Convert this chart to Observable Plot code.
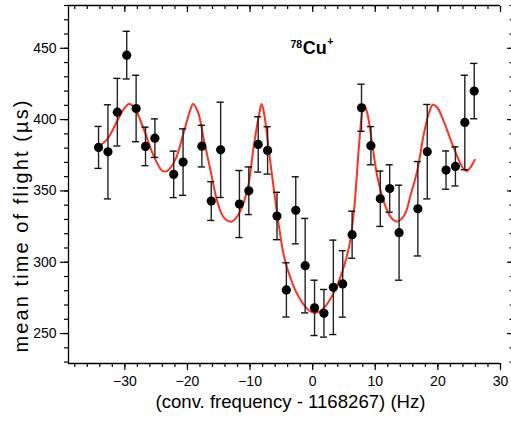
<!DOCTYPE html>
<html>
<head>
<meta charset="utf-8">
<script src="https://cdn.jsdelivr.net/npm/d3@7"></script>
<script src="https://cdn.jsdelivr.net/npm/@observablehq/plot@0.6"></script>
<style>
  html, body { margin: 0; padding: 0; background: white; }
  #chart { width: 511px; height: 426px; }
</style>
</head>
<body>
<div id="chart"></div>
<script>
// Measured data points (conv. frequency offset in Hz, mean TOF in µs, error in µs)
const freq = [-34.2, -32.7, -31.2, -29.7, -28.2, -26.7, -25.2, -22.2, -20.7, -17.7, -16.2, -14.7,
  -11.7, -10.2, -8.7, -7.2, -5.7, -4.2, -2.7, -1.2, 0.3, 1.8, 3.3, 4.8, 6.3, 7.8, 9.3, 10.8, 12.3,
  13.8, 16.8, 18.3, 21.3, 22.8, 24.3, 25.8];
const tof = [380.5, 377.4, 405.2, 445.2, 407.8, 381.2, 387, 361.6, 370.2, 381.4, 342.9, 378.8,
  340.8, 350.1, 382.6, 378.4, 332.4, 280.6, 336.4, 297.6, 268, 264.2, 282.4, 284.8, 319.3, 408.3,
  381.7, 344.5, 351.7, 320.7, 337.5, 377.5, 364.6, 367.2, 398, 420];
const tofErr = [14.7, 33, 23.7, 16.7, 23.3, 13.5, 13.5, 16.3, 23.3, 14.6, 13.6, 33.4, 23.5, 16.7,
  19.4, 16.6, 16.6, 19, 23.5, 33.1, 19.4, 16.7, 33.1, 23.3, 16.5, 16.5, 13.4, 19.4, 16.6, 33.3,
  33.1, 33.1, 13.4, 13.7, 33.1, 19.4];

// Fit curve
const fitX = [-34.3, -32.8, -31.2, -30.1, -29.3, -28.5, -27.5, -26.4, -25.4, -24.0, -23.2, -21.9,
  -20.6, -19.5, -19.1, -18.3, -17.4, -16.3, -15.2, -14.2, -13.0, -11.8, -10.4, -9.4, -8.6, -8.15,
  -7.7, -7.0, -6.2, -5.4, -4.6, -3.5, -2.2, -0.85, 0.2, 1.2, 2.1, 3.4, 4.7, 5.8, 6.6, 7.4, 7.9, 8.2,
  8.7, 9.4, 10.3, 11.4, 12.5, 13.4, 14.6, 15.7, 16.7, 17.8, 18.6, 19.2, 19.9, 21.0, 22.3, 23.4,
  24.2, 24.7, 25.2, 25.9];
const fitY = [380.9, 386.3, 399.2, 407.8, 410.9, 408.5, 399.2, 386.3, 374.6, 364.1, 364.1, 372.3,
  391, 407.4, 410.9, 405, 386.3, 364, 342, 331.4, 328.4, 333.8, 351.3, 381.7, 402.7, 410.9,
  402.7, 378.2, 351.3, 325.6, 304.6, 288.3, 275.4, 267.3, 264.5, 265.8, 269.6, 278.9, 292.9, 310.4,
  336.1, 381.7, 405, 410.5, 405, 386.3, 360.6, 342, 331.4, 328.6, 332.6, 348, 364.1, 391, 405,
  410.4, 408.5, 398, 382.8, 371.1, 364.8, 364.1, 366.5, 371.8];

// Tick values
const xMajor = [-30, -20, -10, 0, 10, 20, 30];
const xMinor = d3.range(-38, 31, 2);
const yMajor = [250, 300, 350, 400, 450];
const yMinor = d3.range(230, 481, 10);

const xTitle = "(conv. frequency - 1168267) (Hz)";
const yTitle = "mean time of flight (µs)";

const points = freq.map((f, i) => ({x: f, y: tof[i], e: tofErr[i]}));
const fit = fitX.map((f, i) => ({x: f, y: fitY[i]}));

const capHalf = 0.57;
const blank = () => "";

const chart = Plot.plot({
  width: 511,
  height: 426,
  marginLeft: 68,
  marginRight: 11,
  marginTop: 5,
  marginBottom: 63,
  x: {domain: [-39, 30]},
  y: {domain: [229, 480]},
  style: {fontFamily: "'Liberation Sans', Arial, Helvetica, sans-serif", fontSize: "14px", color: "black", background: "white"},
  marks: [
    // frame lines
    Plot.ruleY([229], {stroke: "black", strokeWidth: 1.3}),
    Plot.ruleY([480], {stroke: "black", strokeWidth: 1.3}),
    Plot.ruleX([-39], {stroke: "black", strokeWidth: 1.3}),
    // bottom axis
    Plot.axisX({ticks: xMajor, tickSize: 7, tickPadding: 6, label: null, fontSize: 14, strokeWidth: 1.2}),
    Plot.axisX({ticks: xMinor, tickSize: 4, tickFormat: blank, label: null, strokeWidth: 1.2}),
    // top ticks (inward)
    Plot.axisX({anchor: "top", ticks: xMajor, tickSize: -6, tickFormat: blank, label: null, strokeWidth: 1.2}),
    Plot.axisX({anchor: "top", ticks: xMinor, tickSize: -3, tickFormat: blank, label: null, strokeWidth: 1.2}),
    // left axis
    Plot.axisY({ticks: yMajor, tickSize: 8, tickPadding: 4, label: null, fontSize: 14, strokeWidth: 1.2}),
    Plot.axisY({ticks: yMinor, tickSize: 4, tickFormat: blank, label: null, strokeWidth: 1.2}),
    // right ticks
    Plot.axisY({anchor: "right", ticks: yMajor, tickSize: 5, dx: 6, tickFormat: blank, label: null, strokeWidth: 1.2}),
    Plot.axisY({anchor: "right", ticks: yMinor, tickSize: 2.5, dx: 8.5, tickFormat: blank, label: null, strokeWidth: 1.2}),
    // axis titles
    Plot.text([xTitle], {frameAnchor: "bottom", dx: 6, dy: 44, fontSize: 18.6, fill: "black"}),
    Plot.text([yTitle], {frameAnchor: "left", y: () => 325, dx: -47, rotate: -90, textAnchor: "middle", fontSize: 20, fill: "black"}),
    // fit curve
    Plot.line(fit, {x: "x", y: "y", stroke: "#ff3020", strokeWidth: 2, curve: "catmull-rom"}),
    // error bars
    Plot.ruleX(points, {x: "x", y1: d => d.y - d.e, y2: d => d.y + d.e, stroke: "#222", strokeWidth: 1.4}),
    Plot.ruleY(points, {y: d => d.y - d.e, x1: d => d.x - capHalf, x2: d => d.x + capHalf, stroke: "#111", strokeWidth: 1.4}),
    Plot.ruleY(points, {y: d => d.y + d.e, x1: d => d.x - capHalf, x2: d => d.x + capHalf, stroke: "#111", strokeWidth: 1.4}),
    // points
    Plot.dot(points, {x: "x", y: "y", r: 4.6, fill: "black", stroke: "none"}),
    // annotation 78Cu+
    Plot.text(["Cu"], {x: () => 0, y: () => 450, textAnchor: "start", dx: -10, fontSize: 18, fontWeight: "bold", fill: "black"}),
    Plot.text(["78"], {x: () => 0, y: () => 450, textAnchor: "end", dx: -10.5, dy: -4, fontSize: 10.5, fontWeight: "bold", fill: "black"}),
    Plot.text(["+"], {x: () => 0, y: () => 450, textAnchor: "start", dx: 14.5, dy: -6.5, fontSize: 10.5, fontWeight: "bold", fill: "black"})
  ]
});

// stretch the y title to the length it has in the reference
d3.select(chart).selectAll("text")
  .filter(function () { return this.textContent === yTitle; })
  .attr("textLength", 252)
  .attr("lengthAdjust", "spacing");

document.getElementById("chart").appendChild(chart);
</script>
</body>
</html>
